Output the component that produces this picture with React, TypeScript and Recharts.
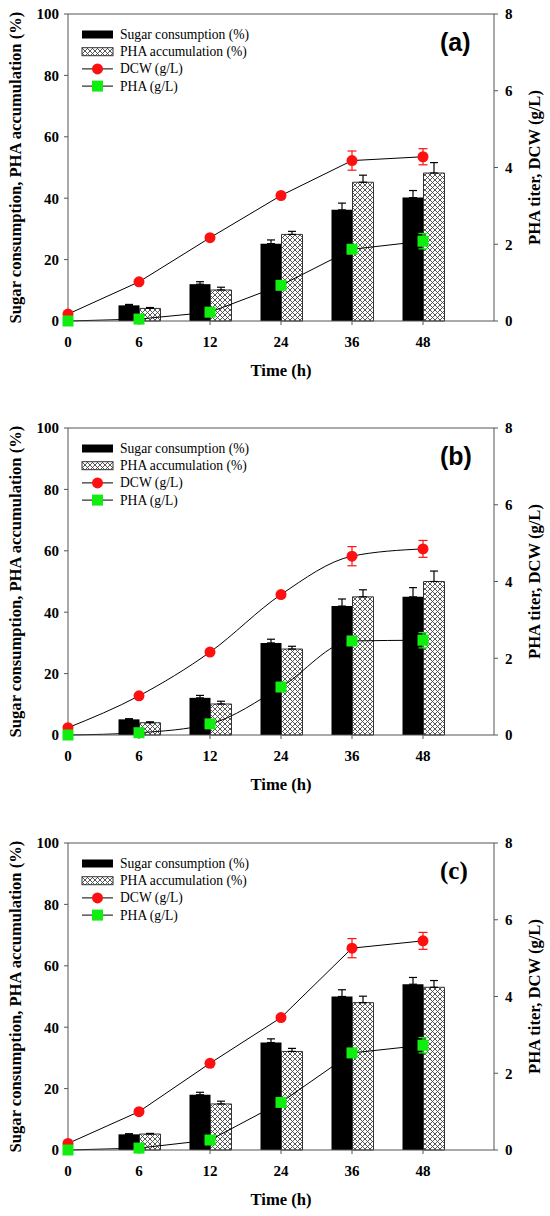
// Sugar consumption / PHA accumulation vs time — three stacked panels
import React from 'react';
import {
  ComposedChart,
  Bar,
  Line,
  XAxis,
  YAxis,
  ErrorBar,
  ReferenceLine,
  Legend,
} from 'recharts';

const timeLabels = ['0', '6', '12', '24', '36', '48'];
const leftTicks = [0, 20, 40, 60, 80, 100];
const rightTicks = [0, 2, 4, 6, 8];

// panel (a)
const sugarA = [null, 5.1, 12, 25.2, 36.2, 40.2];
const sugarErrA = [null, 0.3, 0.8, 1.2, 2.2, 2.3];
const accA = [null, 4.1, 10.1, 28.2, 45.2, 48.2];
const accErrA = [null, 0.3, 0.9, 1.0, 2.3, 3.4];
const dcwA = [0.18, 1.02, 2.17, 3.27, 4.18, 4.28];
const dcwErrA = [null, null, null, null, 0.25, 0.21];
const phaA = [0, 0.05, 0.23, 0.93, 1.87, 2.08];
const phaErrA = [null, null, null, null, null, 0.2];

// panel (b)
const sugarB = [null, 5.1, 12.1, 30, 42, 45];
const sugarErrB = [null, 0.2, 0.8, 1.2, 2.3, 3.0];
const accB = [null, 4, 10.1, 28, 45, 50];
const accErrB = [null, 0.3, 0.9, 0.9, 2.3, 3.4];
const dcwB = [0.19, 1.02, 2.16, 3.66, 4.66, 4.85];
const dcwErrB = [null, null, null, null, 0.25, 0.22];
const phaB = [0, 0.06, 0.29, 1.25, 2.45, 2.47];
const phaErrB = [null, null, null, null, null, 0.2];

// panel (c)
const sugarC = [null, 5.1, 18, 35, 50, 54];
const sugarErrC = [null, 0.2, 0.8, 1.2, 2.2, 2.2];
const accC = [null, 5.2, 15, 32.1, 48, 53];
const accErrC = [null, 0.2, 0.9, 1.0, 2.1, 2.2];
const dcwC = [0.17, 1.0, 2.26, 3.45, 5.26, 5.45];
const dcwErrC = [null, null, null, null, 0.25, 0.22];
const phaC = [0, 0.05, 0.26, 1.24, 2.53, 2.73];
const phaErrC = [null, null, null, null, null, 0.2];

const SERIF = "'Liberation Serif', 'Times New Roman', serif";
const SANS = "'Liberation Sans', Arial, sans-serif";
const AXIS = '#555';
const RED = '#ff1010';
const GREEN = '#10ee10';

const tickStyle = { fill: '#000', fontSize: 15, fontWeight: 700, fontFamily: SERIF };

function upOnly(v: number | null) {
  return v == null ? null : [0, v];
}

function SquareDot(props: any) {
  const { cx, cy, index } = props;
  if (cx == null || cy == null) return <g key={index} />;
  return <rect key={index} x={cx - 5.5} y={cy - 5.5} width={11} height={11} fill={GREEN} />;
}

function VerticalTitle({ viewBox, text, cx }: any) {
  const cy = viewBox.y + viewBox.height / 2;
  return (
    <text
      x={cx}
      y={cy}
      transform={`rotate(-90 ${cx} ${cy})`}
      textAnchor="middle"
      dominantBaseline="central"
      fontFamily={SERIF}
      fontWeight={700}
      fontSize={16.6}
      fill="#000"
    >
      {text}
    </text>
  );
}

function LegendBox({ hatchId }: { hatchId: string }) {
  const rows = [8.5, 25.7, 42.9, 60.1];
  const txt = { fontFamily: SERIF, fontSize: 13.6, fill: '#000' };
  return (
    <svg width={180} height={70}>
      <rect x={2} y={rows[0] - 4} width={31} height={8} fill="#000" />
      <rect x={2} y={rows[1] - 4} width={31} height={8} fill={`url(#${hatchId})`} stroke="#333" />
      <line x1={2} x2={33} y1={rows[2]} y2={rows[2]} stroke="#000" />
      <circle cx={17.5} cy={rows[2]} r={5.5} fill={RED} />
      <line x1={2} x2={33} y1={rows[3]} y2={rows[3]} stroke="#000" />
      <rect x={12} y={rows[3] - 5.5} width={11} height={11} fill={GREEN} />
      <text x={40} y={rows[0]} dominantBaseline="central" {...txt}>Sugar consumption (%)</text>
      <text x={40} y={rows[1]} dominantBaseline="central" {...txt}>PHA accumulation (%)</text>
      <text x={40} y={rows[2]} dominantBaseline="central" {...txt}>DCW (g/L)</text>
      <text x={40} y={rows[3]} dominantBaseline="central" {...txt}>PHA (g/L)</text>
    </svg>
  );
}

interface PanelProps {
  id: string;
  letter: string;
  letterFont: string;
  top: number;
  curve: 'linear' | 'monotone';
  sugar: (number | null)[];
  sugarErr: (number | null)[];
  acc: (number | null)[];
  accErr: (number | null)[];
  dcw: number[];
  dcwErr: (number | null)[];
  pha: number[];
  phaErr: (number | null)[];
}

function Panel(p: PanelProps) {
  const hatchId = `hatch-${p.id}`;
  const data = timeLabels.map(function (_, i) {
    return {
      i,
      sugar: p.sugar[i],
      sugarErr: upOnly(p.sugarErr[i]),
      acc: p.acc[i],
      accErr: upOnly(p.accErr[i]),
      dcw: p.dcw[i],
      dcwErr: p.dcwErr[i],
      pha: p.pha[i],
      phaErr: p.phaErr[i],
    };
  });

  return (
    <div style={{ position: 'absolute', left: 0, top: p.top, width: 550, height: 414 }}>
      <ComposedChart
        width={550}
        height={414}
        data={data}
        margin={{ top: 14, right: 0, bottom: 0, left: 0 }}
        barGap={0}
      >
        <defs>
          <pattern id={hatchId} patternUnits="userSpaceOnUse" width={5} height={5}>
            <rect width={5} height={5} fill="#fff" />
            <path d="M0,0 L5,5 M5,0 L0,5" stroke="#444" strokeWidth={0.9} />
          </pattern>
        </defs>
        <XAxis
          dataKey="i"
          type="number"
          domain={[0, 6]}
          ticks={[0, 1, 2, 3, 4, 5]}
          tickFormatter={function (v: number) {
            return timeLabels[v];
          }}
          height={93}
          stroke={AXIS}
          tickSize={4}
          tickMargin={11}
          tick={tickStyle}
          label={{
            value: 'Time (h)',
            position: 'insideTop',
            offset: 43,
            fill: '#000',
            fontSize: 16.6,
            fontWeight: 700,
            fontFamily: SERIF,
          }}
        />
        <YAxis
          yAxisId="left"
          domain={[0, 100]}
          ticks={leftTicks}
          width={68}
          stroke={AXIS}
          tickSize={4}
          tickMargin={5}
          tick={tickStyle}
          label={<VerticalTitle text="Sugar consumption, PHA accumulation (%)" cx={15} />}
        />
        <YAxis
          yAxisId="right"
          orientation="right"
          domain={[0, 8]}
          ticks={rightTicks}
          width={56}
          stroke={AXIS}
          tickSize={4}
          tickMargin={7}
          tick={tickStyle}
          label={<VerticalTitle text="PHA titer, DCW (g/L)" cx={534} />}
        />
        <ReferenceLine yAxisId="left" y={100} stroke={AXIS} />
        <Bar yAxisId="left" dataKey="sugar" fill="#000" barSize={21} isAnimationActive={false}>
          <ErrorBar dataKey="sugarErr" direction="y" width={4} stroke="#000" strokeWidth={1.2} />
        </Bar>
        <Bar
          yAxisId="left"
          dataKey="acc"
          fill={`url(#${hatchId})`}
          stroke="#333"
          strokeWidth={1}
          barSize={21}
          isAnimationActive={false}
        >
          <ErrorBar dataKey="accErr" direction="y" width={4} stroke="#000" strokeWidth={1.2} />
        </Bar>
        <Line
          yAxisId="right"
          type={p.curve}
          dataKey="dcw"
          stroke="#000"
          strokeWidth={1}
          dot={{ r: 5.5, fill: RED, stroke: 'none' }}
          activeDot={false}
          isAnimationActive={false}
        >
          <ErrorBar dataKey="dcwErr" direction="y" width={4.5} stroke={RED} strokeWidth={1.2} />
        </Line>
        <Line
          yAxisId="right"
          type={p.curve}
          dataKey="pha"
          stroke="#000"
          strokeWidth={1}
          dot={SquareDot}
          activeDot={false}
          isAnimationActive={false}
        >
          <ErrorBar dataKey="phaErr" direction="y" width={4.5} stroke={GREEN} strokeWidth={1.2} />
        </Line>
        <Legend
          layout="vertical"
          align="center"
          verticalAlign="middle"
          wrapperStyle={{ left: 80, top: 26, width: 180, height: 70 }}
          content={<LegendBox hatchId={hatchId} />}
        />
      </ComposedChart>
      <div
        style={{
          position: 'absolute',
          left: 440,
          top: 27,
          fontFamily: p.letterFont,
          fontWeight: 700,
          fontSize: 25,
          lineHeight: '30px',
          color: '#000',
        }}
      >
        {p.letter}
      </div>
    </div>
  );
}

export default function App() {
  return (
    <div style={{ position: 'absolute', left: 0, top: 0, width: 550, height: 1216, background: '#fff' }}>
      <Panel
        id="a" letter="(a)" letterFont={SANS} top={0} curve="linear"
        sugar={sugarA} sugarErr={sugarErrA} acc={accA} accErr={accErrA}
        dcw={dcwA} dcwErr={dcwErrA} pha={phaA} phaErr={phaErrA}
      />
      <Panel
        id="b" letter="(b)" letterFont={SANS} top={414} curve="monotone"
        sugar={sugarB} sugarErr={sugarErrB} acc={accB} accErr={accErrB}
        dcw={dcwB} dcwErr={dcwErrB} pha={phaB} phaErr={phaErrB}
      />
      <Panel
        id="c" letter="(c)" letterFont={SERIF} top={829} curve="linear"
        sugar={sugarC} sugarErr={sugarErrC} acc={accC} accErr={accErrC}
        dcw={dcwC} dcwErr={dcwErrC} pha={phaC} phaErr={phaErrC}
      />
    </div>
  );
}
